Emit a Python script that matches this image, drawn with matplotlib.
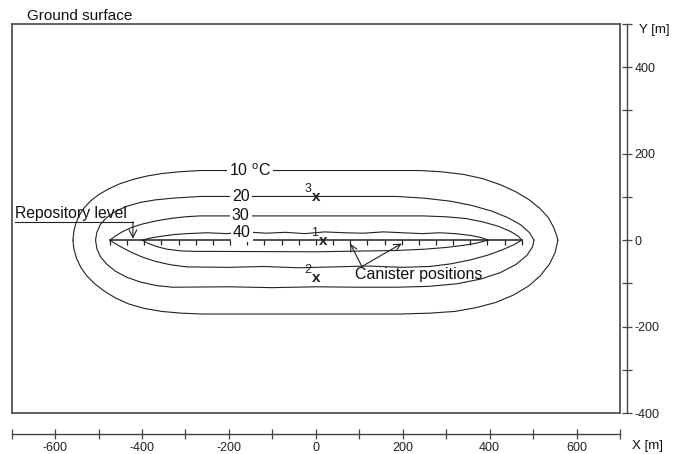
import matplotlib
matplotlib.use("Agg")
import matplotlib.pyplot as plt
from matplotlib.ticker import FixedLocator, FixedFormatter

plt.rcParams["font.family"] = ["Liberation Sans", "DejaVu Sans"]
plt.rcParams["mathtext.fontset"] = "custom"
plt.rcParams["mathtext.rm"] = "Liberation Sans"

# ---- isotherms (m): upper branch and lower branch, each left -> right ----
iso10_up_x = [-559, -557, -552, -544, -533, -518, -500, -478, -452, -422, -390, -355, -315, -267,
              0, 239, 290, 340, 385, 425, 460, 490, 515, 535, 548, 555, 557]
iso10_up_y = [0, 20, 40, 58, 75, 91, 105, 118, 130, 140, 148, 154, 158, 161,
              161, 161, 158, 152, 142, 128, 112, 94, 74, 52, 28, 8, 0]
iso10_lo_x = [-559, -557, -551, -541, -527, -509, -487, -461, -430, -395, -355, -310, -262,
              0, 196, 262, 320, 370, 415, 455, 490, 517, 538, 551, 557]
iso10_lo_y = [0, -20, -42, -63, -83, -101, -118, -134, -148, -158, -165, -169, -171,
              -171, -171, -169, -165, -156, -144, -127, -106, -82, -55, -28, 0]

iso20_up_x = [-507, -504, -496, -482, -462, -436, -405, -370, -330, -267,
              0, 186, 250, 310, 360, 405, 442, 472, 492, 502]
iso20_up_y = [0, 18, 36, 52, 66, 78, 87, 93, 97, 101,
              101, 101, 97, 90, 80, 67, 52, 35, 17, 0]
iso20_lo_x = [-507, -504, -496, -481, -461, -435, -404, -368, -330, -200, -100, 0, 100,
              186, 260, 325, 380, 425, 461, 486, 499, 502]
iso20_lo_y = [0, -20, -38, -56, -72, -86, -97, -105, -109, -108, -110, -108, -109,
              -109, -107, -101, -90, -75, -56, -35, -15, 0]

iso30_up_x = [-474, -462, -446, -425, -400, -370, -335, -300, -267,
              0, 246, 300, 345, 385, 420, 448, 466, 474]
iso30_up_y = [0, 9, 19, 29, 37, 44, 50, 54, 56,
              56, 56, 54, 50, 42, 32, 20, 9, 0]
iso30_lo_x = [-474, -462, -446, -425, -400, -370, -335, -297, -200, -120, -40, 40, 120, 200,
              262, 310, 355, 395, 428, 455, 474]
iso30_lo_y = [0, -8, -17, -28, -39, -49, -57, -62, -63, -61, -64, -62, -60, -63,
              -61, -55, -46, -35, -23, -11, 0]

iso40_up_x = [-400, -380, -355, -325, -297, -250, -205, -160, -115, -70, -25, 20, 65, 110,
              155, 200, 245, 285, 320, 355, 380, 396]
iso40_up_y = [0, 5, 9, 13, 15, 17, 15, 19, 16, 18, 15, 19, 17, 16,
              19, 17, 15, 17, 15, 11, 6, 0]
iso40_lo_x = [-400, -385, -366, -343, -310, -280, 0, 186, 250, 300, 340, 370, 396]
iso40_lo_y = [0, -8, -15, -21, -25, -26, -27, -24, -21, -17, -12, -7, 0]

levels = [10, 20, 30, 40]
level_labels = ["10 $^{\\mathrm{o}}$C", "20", "30", "40"]
label_x = [-152, -173, -173, -170]
label_y = [161, 101, 56, 17]

# canister positions along the repository line (m)
canister_x = [-474, -434.5, -395, -355.5, -316, -276.5, -237, -197.5, -158, -118.5,
              -79, -39.5, 0, 39.5, 79, 118.5, 158, 197.5, 237, 276.5,
              316, 355.5, 395, 434.5, 474]

# observation points
point_ids = ["1", "2", "3"]
point_x = [17, 0, 0]
point_y = [-3, -88, 99]

x_ticks = [-700, -600, -500, -400, -300, -200, -100, 0, 100, 200, 300, 400, 500, 600, 700]
x_ticklabels = ["", "-600", "", "-400", "", "-200", "", "0", "", "200", "", "400", "", "600", ""]
y_ticks = [-400, -300, -200, -100, 0, 100, 200, 300, 400, 500]
y_ticklabels = ["-400", "", "-200", "", "0", "", "200", "", "400", ""]

W, H = 673, 454
fig = plt.figure(figsize=(W / 100, H / 100), dpi=100)

ax = fig.add_axes([11.7 / W, 41 / H, 608.3 / W, 389 / H])
ax.set_xlim(-700, 700)
ax.set_ylim(-400, 500)
ax.set_xticks([])
ax.set_yticks([])
for s in ax.spines.values():
    s.set_color("#555555")
    s.set_linewidth(1.3)

line_kw = dict(color="#222222", lw=0.8, solid_joinstyle="round")
isos = [
    (iso10_up_x, iso10_up_y, iso10_lo_x, iso10_lo_y),
    (iso20_up_x, iso20_up_y, iso20_lo_x, iso20_lo_y),
    (iso30_up_x, iso30_up_y, iso30_lo_x, iso30_lo_y),
    (iso40_up_x, iso40_up_y, iso40_lo_x, iso40_lo_y),
]
for ux, uy, lx, ly in isos:
    ax.plot(ux, uy, **line_kw)
    ax.plot(lx, ly, **line_kw)

for txt, lx, ly in zip(level_labels, label_x, label_y):
    ax.text(lx, ly, txt, ha="center", va="center", fontsize=11.5, color="#111111",
            bbox=dict(fc="white", ec="none", pad=1.5), zorder=5)

# repository line with canister ticks
ax.plot([canister_x[0], canister_x[-1]], [0, 0], color="#222222", lw=1.1)
ax.plot(canister_x, [0] * len(canister_x), ls="none", marker=3, ms=3.5,
        mew=0.9, color="#222222")

# observation points
for pid, px, py in zip(point_ids, point_x, point_y):
    ax.text(px, py, "x", ha="center", va="center", fontsize=11, fontweight="bold",
            color="#222222", zorder=6)
    ax.annotate(pid, (px, py), xytext=(-6, 6), textcoords="offset points",
                ha="center", va="center", fontsize=9, color="#222222", zorder=6)

# repository level annotation
ax.text(-693, 62, "Repository level", ha="left", va="center", fontsize=11.3, color="#111111")
ax.plot([-693, -421], [42, 42], color="#222222", lw=0.8)
ax.annotate("", xy=(-421, 3), xytext=(-421, 42),
            arrowprops=dict(arrowstyle="->", lw=0.8, color="#222222", mutation_scale=14,
                            shrinkA=0, shrinkB=0))

# canister positions annotation
ax.text(90, -79, "Canister positions", ha="left", va="center", fontsize=11.5, color="#111111")
for tx in (canister_x[14], canister_x[17]):
    ax.annotate("", xy=(tx, -8), xytext=(106, -61),
                arrowprops=dict(arrowstyle="->", lw=0.8, color="#222222",
                                mutation_scale=12, shrinkA=0, shrinkB=0))

# detached x scale below the section
axx = fig.add_axes([11.7 / W, (454 - 434) / H, 608.3 / W, 0.0001])
axx.set_xlim(-700, 700)
axx.set_yticks([])
for k in ("top", "left", "right"):
    axx.spines[k].set_visible(False)
axx.spines["bottom"].set_color("#444444")
axx.spines["bottom"].set_linewidth(1.0)
axx.xaxis.set_major_locator(FixedLocator(x_ticks))
axx.xaxis.set_major_formatter(FixedFormatter(x_ticklabels))
axx.tick_params(axis="x", direction="inout", length=7, width=0.9, color="#444444",
                labelsize=9, pad=2, labelcolor="#222222")
axx.patch.set_visible(False)

# detached y scale to the right
wy = 0.0001
axy = fig.add_axes([627 / W - wy, 41 / H, wy, 389 / H])
axy.set_ylim(-400, 500)
axy.set_xticks([])
for k in ("top", "left", "bottom"):
    axy.spines[k].set_visible(False)
axy.spines["right"].set_color("#444444")
axy.spines["right"].set_linewidth(1.0)
axy.yaxis.tick_right()
axy.yaxis.set_major_locator(FixedLocator(y_ticks))
axy.yaxis.set_major_formatter(FixedFormatter(y_ticklabels))
axy.tick_params(axis="y", direction="inout", length=7, width=0.9, color="#444444",
                labelsize=9, pad=2, labelcolor="#222222")
axy.patch.set_visible(False)

fig.text(27 / W, 1 - 16 / H, "Ground surface", ha="left", va="center", fontsize=11, color="#111111")
fig.text(639 / W, 1 - 30 / H, "Y [m]", ha="left", va="center", fontsize=9.5, color="#111111")
fig.text(632 / W, 1 - 446 / H, "X [m]", ha="left", va="center", fontsize=9.5, color="#111111")

fig.savefig("out.png", dpi=100)
